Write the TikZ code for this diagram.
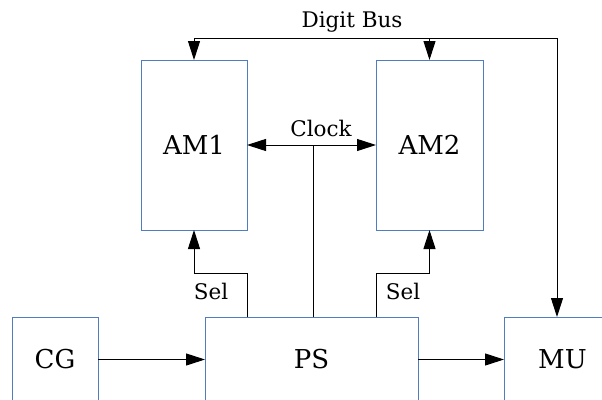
\documentclass[tikz,border=0pt]{standalone}
\usepackage{fontspec}
\setmainfont{DejaVu Serif}
\usetikzlibrary{arrows.meta}
\definecolor{boxblue}{RGB}{79,125,190}
\tikzset{
  blk/.style={draw=boxblue, line width=0.9pt, inner sep=0pt, outer sep=0pt, font=\fontsize{26}{30}\selectfont},
  wire/.style={line width=1pt, draw=black},
  arr/.style={wire, -{Triangle[length=19pt,width=12pt]}},
  arrs/.style={wire, {Triangle[length=19pt,width=12pt]}-{Triangle[length=19pt,width=12pt]}},
  lbl/.style={inner sep=0pt, font=\fontsize{21.5}{25}\selectfont}
}
\begin{document}
\begin{tikzpicture}[x=1pt,y=-1pt]
\path[use as bounding box, clip] (0,0) rectangle (602,399);
\fill[white] (0,0) rectangle (602,399);
% boxes
\node[blk, minimum width=106pt, minimum height=170pt] (AM1) at (194,145) {AM1};
\node[blk, minimum width=107pt, minimum height=170pt] (AM2) at (429.5,145) {AM2};
\node[blk, minimum width=86pt, minimum height=85pt] (CG) at (55,359.5) {CG};
\node[blk, minimum width=213pt, minimum height=85pt] (PS) at (311.5,359.5) {PS};
\node[blk, minimum width=117pt, minimum height=85pt] (MU) at (562.5,359.5) {MU};
% digit bus
\coordinate (busR) at (557,38);
\draw[wire] (AM1.north |- busR) -- (busR);
\draw[arr] (AM1.north |- busR) -- (AM1.north);
\draw[arr] (AM2.north |- busR) -- (AM2.north);
\draw[arr] (busR) -- (busR |- MU.north);
\node[lbl] (dbus) at (352,22) {Digit Bus};
% clock
\coordinate (clk) at (313,145);
\draw[arrs] (AM1.east) -- (AM2.west);
\draw[wire] (clk) -- (clk |- PS.north);
\node[lbl] (clock) at (321,128) {Clock};
% sel lines
\draw[arr] (AM1.east |- PS.north) -- ++(0,-44) -| (AM1.south);
\draw[arr] (AM2.west |- PS.north) -- ++(0,-44) -| (AM2.south);
\node[lbl] (sel1) at (211,291) {Sel};
\node[lbl] (sel2) at (403,291) {Sel};
% bottom arrows
\draw[arr] (CG.east) -- (PS.west);
\draw[arr] (PS.east) -- (MU.west);
\end{tikzpicture}
\end{document}
